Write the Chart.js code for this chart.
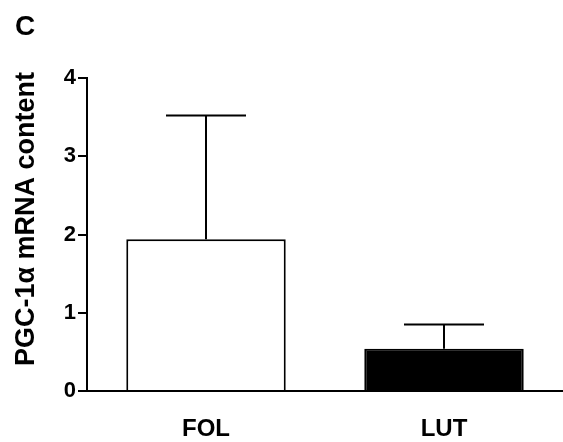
<!DOCTYPE html>
<html>
<head>
<meta charset="utf-8">
<script src="https://cdn.jsdelivr.net/npm/chart.js@4/dist/chart.umd.min.js"></script>
<style>
  html, body { margin: 0; padding: 0; background: #fff; }
  #wrap { width: 563px; height: 442px; }
</style>
</head>
<body>
<div id="wrap"><canvas id="chart" width="563" height="442"></canvas></div>
<script>
const groups = ['FOL', 'LUT'];
const means = [1.94, 0.54];
const errors = [1.58, 0.31];
const yTicks = [0, 1, 2, 3, 4];
const panelLabel = 'C';
const yTitle = 'PGC-1\u03B1 mRNA content';

const FONT = '"Liberation Sans", Arial, Helvetica, sans-serif';

// draws upward SEM bars, the panel letter and the y title
const extras = {
  id: 'extras',
  afterDatasetsDraw(chart) {
    const ctx = chart.ctx;
    const x = chart.scales.x;
    const y = chart.scales.y;
    ctx.save();
    ctx.strokeStyle = '#000';
    ctx.lineWidth = 2;
    means.forEach((m, i) => {
      const cx = x.getPixelForValue(i);
      const top = y.getPixelForValue(m + errors[i]);
      const base = y.getPixelForValue(m);
      ctx.beginPath();
      ctx.moveTo(cx, base);
      ctx.lineTo(cx, top);
      ctx.moveTo(cx - 40, top);
      ctx.lineTo(cx + 40, top);
      ctx.stroke();
    });
    ctx.fillStyle = '#000';
    ctx.font = 'bold 28px ' + FONT;
    ctx.textBaseline = 'alphabetic';
    ctx.fillText(panelLabel, 15, 35);

    ctx.translate(34, 219);
    ctx.rotate(-Math.PI / 2);
    ctx.font = 'bold 27px ' + FONT;
    ctx.textAlign = 'center';
    ctx.fillText(yTitle, 0, 0);
    ctx.restore();
  }
};

new Chart(document.getElementById('chart'), {
  type: 'bar',
  data: {
    labels: groups,
    datasets: [{
      data: means,
      backgroundColor: ['#fff', '#000'],
      borderColor: '#000',
      borderWidth: 2,
      borderSkipped: 'bottom',
      categoryPercentage: 1,
      barPercentage: 0.67
    }]
  },
  options: {
    responsive: false,
    animation: false,
    layout: { padding: { top: 78, left: 0, right: 0, bottom: 0 } },
    plugins: { legend: { display: false }, tooltip: { enabled: false } },
    scales: {
      x: {
        grid: { display: false, drawTicks: false },
        border: { color: '#000', width: 2 },
        ticks: { color: '#000', padding: 24, font: { family: FONT, size: 24, weight: 'bold' } },
        afterFit(scale) { scale.height = 51; }
      },
      y: {
        min: 0,
        max: 4,
        afterBuildTicks(scale) { scale.ticks = yTicks.map(v => ({ value: v })); },
        grid: { drawOnChartArea: false, color: '#000', tickLength: 9, lineWidth: 2 },
        border: { color: '#000', width: 2 },
        ticks: { color: '#000', padding: 2, font: { family: FONT, size: 22, weight: 'bold' } },
        afterFit(scale) { scale.width = 87; }
      }
    }
  },
  plugins: [extras]
});
</script>
</body>
</html>
